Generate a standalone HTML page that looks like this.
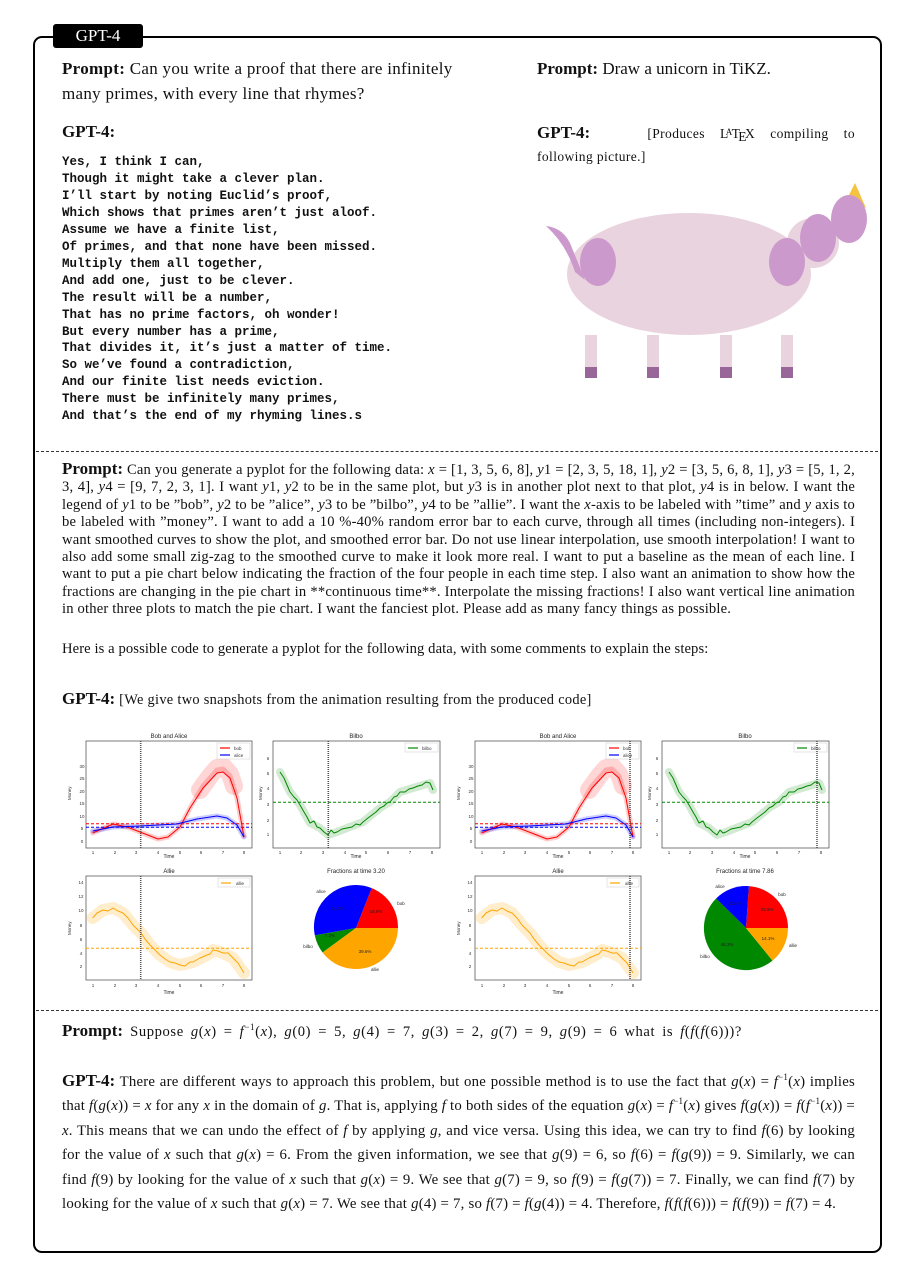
<!DOCTYPE html>
<html><head><meta charset="utf-8"><style>
body{margin:0;background:#fff;}
#pg{position:relative;width:898px;height:1263px;overflow:hidden;font-family:"Liberation Serif",serif;color:#111;}
.a{position:absolute;}
.box{left:33px;top:36px;width:845px;height:1213px;border:2.5px solid #000;border-radius:9px;}
.tab{left:53px;top:24px;width:90px;height:24px;background:#000;color:#fff;font-size:17px;text-align:center;line-height:24px;border-radius:3px;}
.dash{left:36px;width:842px;border-top:1.3px dashed #333;height:0;}
b{font-weight:bold;}
.pr{font-size:17px;line-height:25px;}
.mono{font-family:"Liberation Mono",monospace;font-size:12.5px;font-weight:bold;line-height:16.95px;white-space:pre;}
.j{text-align:justify;}
i{font-style:italic;}
</style></head><body><div id="pg">
<div class="a box"></div>
<div class="a tab">GPT-4</div>

<div class="a pr" style="left:62px;top:56px;width:420px;letter-spacing:.3px"><b>Prompt:</b> Can you write a proof that there are infinitely many primes, with every line that rhymes?</div>
<div class="a" style="left:62px;top:122px;font-size:17px;font-weight:bold">GPT-4:</div>
<div class="a mono" style="left:62px;top:154px;">Yes, I think I can,
Though it might take a clever plan.
I’ll start by noting Euclid’s proof,
Which shows that primes aren’t just aloof.
Assume we have a finite list,
Of primes, and that none have been missed.
Multiply them all together,
And add one, just to be clever.
The result will be a number,
That has no prime factors, oh wonder!
But every number has a prime,
That divides it, it’s just a matter of time.
So we’ve found a contradiction,
And our finite list needs eviction.
There must be infinitely many primes,
And that’s the end of my rhyming lines.s</div>

<div class="a pr" style="left:537px;top:56px;"><b>Prompt:</b> Draw a unicorn in TiKZ.</div>
<div class="a j" style="left:537px;top:122px;width:318px;font-size:13.5px;line-height:22px;letter-spacing:.4px"><b style="font-size:17px;letter-spacing:0;margin-right:42px">GPT-4:</b> [Produces L<span style="font-size:9px;position:relative;top:-3px;margin-left:-3px;margin-right:-1px">A</span>T<span style="position:relative;top:3px;margin:0 -2px">E</span>X compiling to following picture.]</div>

<svg class="a" style="left:0;top:0" width="898" height="400">
<ellipse cx="813" cy="243" rx="26" ry="25" fill="#e9d3de"/>
<ellipse cx="689" cy="274" rx="122" ry="61" fill="#e9d3de"/>
<path d="M546,226 Q565,228 572,248 L585,280 L575,272 Q566,244 546,226Z" fill="#cc99cc"/>
<ellipse cx="598" cy="262" rx="18" ry="24" fill="#cc99cc"/>
<ellipse cx="787" cy="262" rx="18" ry="24" fill="#cc99cc"/>
<polygon points="855,183 866,208 848,197" fill="#f5c242"/>
<ellipse cx="818" cy="238" rx="18" ry="24" fill="#cc99cc"/>
<ellipse cx="849" cy="219" rx="18" ry="24" fill="#cc99cc"/>
<g fill="#e9d3de"><rect x="585" y="335" width="12" height="32"/><rect x="647" y="335" width="12" height="32"/><rect x="720" y="335" width="12" height="32"/><rect x="781" y="335" width="12" height="32"/></g>
<g fill="#996699"><rect x="585" y="367" width="12" height="11"/><rect x="647" y="367" width="12" height="11"/><rect x="720" y="367" width="12" height="11"/><rect x="781" y="367" width="12" height="11"/></g>
</svg>

<div class="a dash" style="top:451px"></div>

<div class="a j" style="left:62px;top:460px;width:793px;font-size:14.6px;line-height:17.4px;letter-spacing:.18px"><b style="font-size:17px;letter-spacing:0">Prompt:</b> Can you generate a pyplot for the following data: <i>x</i> = [1, 3, 5, 6, 8], <i>y</i>1 = [2, 3, 5, 18, 1], <i>y</i>2 = [3, 5, 6, 8, 1], <i>y</i>3 = [5, 1, 2, 3, 4], <i>y</i>4 = [9, 7, 2, 3, 1]. I want <i>y</i>1, <i>y</i>2 to be in the same plot, but <i>y</i>3 is in another plot next to that plot, <i>y</i>4 is in below. I want the legend of <i>y</i>1 to be ”bob”, <i>y</i>2 to be ”alice”, <i>y</i>3 to be ”bilbo”, <i>y</i>4 to be ”allie”. I want the <i>x</i>-axis to be labeled with ”time” and <i>y</i> axis to be labeled with ”money”. I want to add a 10 %-40% random error bar to each curve, through all times (including non-integers). I want smoothed curves to show the plot, and smoothed error bar. Do not use linear interpolation, use smooth interpolation! I want to also add some small zig-zag to the smoothed curve to make it look more real. I want to put a baseline as the mean of each line. I want to put a pie chart below indicating the fraction of the four people in each time step. I also want an animation to show how the fractions are changing in the pie chart in **continuous time**. Interpolate the missing fractions! I also want vertical line animation in other three plots to match the pie chart. I want the fanciest plot. Please add as many fancy things as possible.</div>
<div class="a" style="left:62px;top:641px;font-size:14.6px;letter-spacing:.1px">Here is a possible code to generate a pyplot for the following data, with some comments to explain the steps:</div>
<div class="a" style="left:62px;top:689px;font-size:14.4px;letter-spacing:.3px"><b style="font-size:17px;letter-spacing:0">GPT-4:</b> [We give two snapshots from the animation resulting from the produced code]</div>

<svg class="a" style="left:0;top:0" width="898" height="1010" font-family="Liberation Sans, sans-serif">
<defs>
<g id="base">
 <g font-size="6" fill="#222" text-anchor="middle">
  <text x="169" y="738">Bob and Alice</text><text x="356" y="738">Bilbo</text><text x="169" y="873">Allie</text>
  <text x="169" y="858" font-size="5">Time</text><text x="356" y="858" font-size="5">Time</text><text x="169" y="994" font-size="5">Time</text>
 </g>
 <g fill="none" stroke="#444" stroke-width=".7">
  <rect x="86" y="741" width="166" height="107"/><rect x="273" y="741" width="167" height="107"/><rect x="86" y="876" width="166" height="104"/>
 </g>
 <g font-size="4.5" fill="#333" text-anchor="middle">
  <text x="93" y="854">1</text><text x="115" y="854">2</text><text x="136" y="854">3</text><text x="158" y="854">4</text><text x="180" y="854">5</text><text x="201" y="854">6</text><text x="223" y="854">7</text><text x="244" y="854">8</text>
  <text x="280" y="854">1</text><text x="301" y="854">2</text><text x="323" y="854">3</text><text x="345" y="854">4</text><text x="366" y="854">5</text><text x="388" y="854">6</text><text x="410" y="854">7</text><text x="432" y="854">8</text>
  <text x="93" y="987">1</text><text x="115" y="987">2</text><text x="136" y="987">3</text><text x="158" y="987">4</text><text x="180" y="987">5</text><text x="201" y="987">6</text><text x="223" y="987">7</text><text x="244" y="987">8</text>
  <text x="82" y="843">0</text><text x="82" y="830">5</text><text x="82" y="818">10</text><text x="82" y="805">15</text><text x="82" y="793">20</text><text x="82" y="780">25</text><text x="82" y="768">30</text>
  <text x="268" y="836">1</text><text x="268" y="822">2</text><text x="268" y="806">3</text><text x="268" y="790">4</text><text x="268" y="775">5</text><text x="268" y="760">6</text>
  <text x="81" y="968">2</text><text x="81" y="955">4</text><text x="81" y="941">6</text><text x="81" y="927">8</text><text x="81" y="912">10</text><text x="81" y="898">12</text><text x="81" y="884">14</text>
 </g>
 <g font-size="4.5" fill="#333"><text transform="translate(71,800) rotate(-90)">Money</text><text transform="translate(262,800) rotate(-90)">Money</text><text transform="translate(71,935) rotate(-90)">Money</text></g>
 <g fill="none" stroke-linejoin="round" stroke-linecap="round">
  <polyline stroke="#f00" stroke-opacity=".2" stroke-width="5" points="92.7,833 113,824 127,827 140,832 158,839 168,837 180,827 190,808 203,786 217,770 223,769 230,776 237,798 244,836"/>
  <polyline stroke="#f00" stroke-opacity=".16" stroke-width="18" points="200,790 210,776 217,768 223,766 230,774 234,786"/>
  <polyline stroke="#00f" stroke-opacity=".2" stroke-width="5" points="92.7,831 113,827 140,826 177,824 197,819 217,816 227,818 237,825 244,837"/>
  <polyline stroke="#080" stroke-opacity=".18" stroke-width="8" points="280,772 290,792 300,805 310,823 320,828 328,835 337,832 347,828 363,822 380,808 390,802 400,792 413,788 430,783 433,790"/>
  <polyline stroke="#ffa500" stroke-opacity=".2" stroke-width="12" points="92.7,918 103,910 113,908 123,913 133,925 141,933 150,945 160,955 170,962 180,965 193,962 207,955 213,950 223,953 233,958 244,973"/>
 </g>
 <g fill="none" stroke-width="1" stroke-dasharray="3,2">
  <line x1="86" x2="252" y1="823.7" y2="823.7" stroke="#f00"/><line x1="86" x2="252" y1="827.3" y2="827.3" stroke="#00f"/>
  <line x1="273" x2="440" y1="802.3" y2="802.3" stroke="#080"/><line x1="86" x2="252" y1="948.3" y2="948.3" stroke="#ffa500"/>
 </g>
 <g fill="none" stroke-width="1" stroke-linejoin="round">
  <polyline stroke="#f00" points="92.7,833 113,824 127,827 140,832 158,839 168,837 180,827 190,808 203,788 217,773 223,772 230,778 237,798 244,837"/>
  <polyline stroke="#00f" points="92.7,831 113,827 140,826 177,824 197,819 217,816 227,818 237,825 244,837"/>
  <polyline stroke="#080" points="280,772 284,778 287,785 290,792 294,797 297,800 300,805 304,812 307,817 310,823 314,821 317,827 320,828 324,832 328,835 331,830 334,833 337,832 342,829 347,828 352,827 356,824 360,825 363,822 368,818 372,815 376,812 380,808 384,806 387,803 390,802 394,797 397,796 400,792 405,792 409,789 413,788 418,786 422,785 426,782 430,783 433,790"/>
  <polyline stroke="#ffa500" points="92.7,918 97,913 103,910 108,911 113,908 118,911 123,913 128,918 133,925 137,929 141,933 145,939 150,945 155,950 160,955 165,959 170,962 175,963 180,965 185,966 190,962 193,962 200,958 207,955 210,954 213,950 218,951 223,953 228,953 233,958 238,963 244,973"/>
 </g>
 <g font-size="4.5" fill="#333">
  <rect x="217" y="743" width="33" height="16" fill="#fff" stroke="#ccc" stroke-width=".5"/>
  <line x1="220" x2="230" y1="748" y2="748" stroke="#f00" stroke-width="1.2"/><text x="234" y="750">bob</text>
  <line x1="220" x2="230" y1="755" y2="755" stroke="#00f" stroke-width="1.2"/><text x="234" y="757">alice</text>
  <rect x="405" y="743" width="33" height="9" fill="#fff" stroke="#ccc" stroke-width=".5"/>
  <line x1="408" x2="418" y1="748" y2="748" stroke="#080" stroke-width="1.2"/><text x="422" y="750">bilbo</text>
  <rect x="218" y="878" width="32" height="9" fill="#fff" stroke="#ccc" stroke-width=".5"/>
  <line x1="221" x2="231" y1="883" y2="883" stroke="#ffa500" stroke-width="1.2"/><text x="236" y="885">allie</text>
 </g>
</g>
</defs>

<use href="#base"/>
<g stroke="#555" stroke-width="1.6" stroke-dasharray="1,1">
 <line x1="140.7" x2="140.7" y1="741" y2="848"/><line x1="328.3" x2="328.3" y1="741" y2="848"/><line x1="140.7" x2="140.7" y1="876" y2="980"/>
</g>
<text x="356" y="873" font-size="6" text-anchor="middle" fill="#222">Fractions at time 3.20</text>
<path d="M356,928 L398,928 A42,42 0 0 0 371.7,888.1Z" fill="#f00"/>
<path d="M356,928 L371.7,888.1 A42,42 0 0 0 314.8,935.4Z" fill="#00f"/>
<path d="M356,928 L314.8,935.4 A42,42 0 0 0 322.6,952.5Z" fill="#080"/>
<path d="M356,928 L322.6,952.5 A42,42 0 0 0 398,928Z" fill="#ffa500"/>
<g font-size="4.5" fill="#222" text-anchor="middle">
 <text x="401" y="905">bob</text><text x="321" y="893">alice</text><text x="308" y="948">bilbo</text><text x="375" y="971">allie</text>
 <text x="376" y="913">18.9%</text><text x="338" y="910">34.3%</text><text x="330" y="937">7.2%</text><text x="365" y="953">39.6%</text>
</g>

<g transform="translate(389,0)"><use href="#base"/></g>
<g stroke="#555" stroke-width="1.6" stroke-dasharray="1,1">
 <line x1="630" x2="630" y1="741" y2="848"/><line x1="817" x2="817" y1="741" y2="848"/><line x1="630" x2="630" y1="876" y2="980"/>
</g>
<text x="745" y="873" font-size="6" text-anchor="middle" fill="#222">Fractions at time 7.86</text>
<path d="M746,928 L788,928 A42,42 0 0 0 748.9,886.1Z" fill="#f00"/>
<path d="M746,928 L748.9,886.1 A42,42 0 0 0 716.1,898.5Z" fill="#00f"/>
<path d="M746,928 L716.1,898.5 A42,42 0 0 0 772.5,960.6Z" fill="#080"/>
<path d="M746,928 L772.5,960.6 A42,42 0 0 0 788,928Z" fill="#ffa500"/>
<g font-size="4.5" fill="#222" text-anchor="middle">
 <text x="782" y="896">bob</text><text x="720" y="888">alice</text><text x="705" y="958">bilbo</text><text x="793" y="947">allie</text>
 <text x="767" y="911">23.9%</text><text x="736" y="905">13.7%</text><text x="727" y="946">48.3%</text><text x="768" y="940">14.1%</text>
</g>
</svg>

<div class="a dash" style="top:1010px"></div>

<div class="a" style="left:62px;top:1021px;font-size:14.6px;letter-spacing:.6px;word-spacing:2.8px"><b style="font-size:17px;letter-spacing:0;word-spacing:0">Prompt:</b> Suppose <i>g</i>(<i>x</i>) = <i>f</i><sup style="font-size:9px">−1</sup>(<i>x</i>), <i>g</i>(0) = 5, <i>g</i>(4) = 7, <i>g</i>(3) = 2, <i>g</i>(7) = 9, <i>g</i>(9) = 6 what is <i>f</i>(<i>f</i>(<i>f</i>(6)))?</div>

<div class="a j" style="left:62px;top:1069px;width:793px;font-size:14.8px;line-height:24.4px;letter-spacing:.22px"><b style="font-size:17px;letter-spacing:0">GPT-4:</b> There are different ways to approach this problem, but one possible method is to use the fact that <i>g</i>(<i>x</i>) = <i>f</i><sup style="font-size:9px;line-height:0">−1</sup>(<i>x</i>) implies that <i>f</i>(<i>g</i>(<i>x</i>)) = <i>x</i> for any <i>x</i> in the domain of <i>g</i>. That is, applying <i>f</i> to both sides of the equation <i>g</i>(<i>x</i>) = <i>f</i><sup style="font-size:9px;line-height:0">−1</sup>(<i>x</i>) gives <i>f</i>(<i>g</i>(<i>x</i>)) = <i>f</i>(<i>f</i><sup style="font-size:9px;line-height:0">−1</sup>(<i>x</i>)) = <i>x</i>. This means that we can undo the effect of <i>f</i> by applying <i>g</i>, and vice versa. Using this idea, we can try to find <i>f</i>(6) by looking for the value of <i>x</i> such that <i>g</i>(<i>x</i>) = 6. From the given information, we see that <i>g</i>(9) = 6, so <i>f</i>(6) = <i>f</i>(<i>g</i>(9)) = 9. Similarly, we can find <i>f</i>(9) by looking for the value of <i>x</i> such that <i>g</i>(<i>x</i>) = 9. We see that <i>g</i>(7) = 9, so <i>f</i>(9) = <i>f</i>(<i>g</i>(7)) = 7. Finally, we can find <i>f</i>(7) by looking for the value of <i>x</i> such that <i>g</i>(<i>x</i>) = 7. We see that <i>g</i>(4) = 7, so <i>f</i>(7) = <i>f</i>(<i>g</i>(4)) = 4. Therefore, <i>f</i>(<i>f</i>(<i>f</i>(6))) = <i>f</i>(<i>f</i>(9)) = <i>f</i>(7) = 4.</div>
</div></body></html>
